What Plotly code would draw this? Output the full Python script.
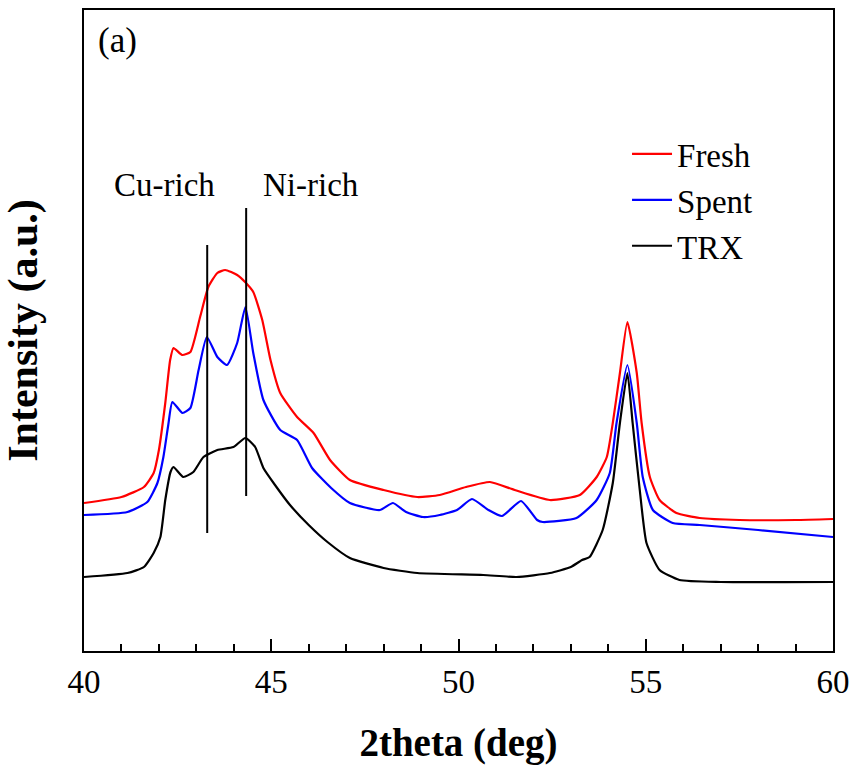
import plotly.graph_objects as go

# ---- data (2theta in deg, intensity in arbitrary units) ----
fresh_x = [40.0, 41.0, 41.6, 41.86, 42.0, 42.17, 42.3, 42.39, 42.62, 42.84, 43.1, 43.32, 43.56, 43.77,
           44.09, 44.3, 44.52, 44.76, 44.98, 45.24, 45.69, 46.13, 46.57, 47.1, 48.0, 48.9, 49.5, 50.2,
           50.84, 51.5, 52.44, 53.24, 53.69, 53.96, 54.12, 54.31, 54.51, 54.76, 54.89, 55.11, 55.37,
           55.82, 56.44, 57.5, 59.0, 60.0]
fresh_y = [148, 154, 164, 178, 201, 248, 291, 303, 296, 299, 334, 364, 378, 381,
           376, 369, 359, 331, 291, 258, 234, 218, 191, 171, 161, 154, 156, 164,
           169, 161, 151, 156, 174, 194, 228, 278, 329, 278, 228, 174, 151,
           138, 133, 131, 131, 132]

spent_x = [40.0, 41.16, 41.69, 41.96, 42.12, 42.25, 42.36, 42.63, 42.84, 43.06, 43.28, 43.56, 43.82,
           44.09, 44.31, 44.52, 44.79, 45.24, 45.69, 46.09, 46.6, 47.1, 47.9, 48.25, 48.6, 49.05,
           49.5, 49.96, 50.36, 50.8, 51.16, 51.67, 52.1, 52.25, 53.15, 53.69, 54.04, 54.22, 54.51,
           54.76, 54.92, 55.19, 55.72, 56.44, 58.0, 60.0]
spent_y = [136, 139, 149, 168, 194, 226, 249, 238, 243, 281, 314, 294, 286,
           308, 344, 298, 251, 221, 211, 183, 163, 148, 141, 148, 139, 134,
           136, 141, 152, 141, 135, 150, 131, 129, 133, 151, 178, 228, 286,
           228, 174, 141, 128, 126, 121, 114]

trx_x = [40.0, 41.16, 41.6, 41.86, 42.04, 42.17, 42.31, 42.39, 42.65, 42.92, 43.19, 43.56, 43.99,
         44.31, 44.57, 44.79, 45.1, 45.5, 46.0, 46.5, 47.1, 48.0, 48.9, 50.66, 51.55, 52.44, 53.0,
         53.3, 53.5, 53.85, 54.12, 54.31, 54.51, 54.65, 54.84, 55.02, 55.37, 55.9, 57.0, 60.0]
trx_y = [74, 78, 84, 98, 114, 151, 179, 184, 174, 179, 194, 201, 204,
         213, 204, 183, 166, 146, 126, 109, 93, 83, 78, 76, 74, 78, 84,
         91, 94, 121, 168, 228, 278, 228, 161, 108, 81, 71, 69, 69]

# reference peak positions (Cu-rich, Ni-rich)
ref_pos = [43.29, 44.33]
ref_low = [118, 155]
ref_high = [406, 443]

labels = ["Cu-rich", "Ni-rich"]
label_x = [42.15, 46.07]
label_y = [466, 466]

FONT = "Liberation Serif, Times New Roman, serif"

fig = go.Figure()
for nm, xs, ys, col in [("Fresh", fresh_x, fresh_y, "#ff0000"),
                        ("Spent", spent_x, spent_y, "#0000ff"),
                        ("TRX", trx_x, trx_y, "#000000")]:
    fig.add_trace(go.Scatter(x=xs, y=ys, mode="lines", name=nm,
                             line=dict(color=col, width=2.2, shape="spline", smoothing=0.5)))

for p, lo, hi in zip(ref_pos, ref_low, ref_high):
    fig.add_trace(go.Scatter(x=[p, p], y=[lo, hi], mode="lines", showlegend=False,
                             line=dict(color="black", width=2), hoverinfo="skip"))

for t, x, y in zip(labels, label_x, label_y):
    fig.add_annotation(x=x, y=y, text=t, showarrow=False,
                       font=dict(family=FONT, size=33, color="black"))

fig.add_annotation(x=0.045, y=0.953, xref="paper", yref="paper", text="(a)", showarrow=False,
                   xanchor="center", yanchor="middle",
                   font=dict(family=FONT, size=35, color="black"))

fig.update_layout(
    width=853, height=769,
    margin=dict(l=84, r=20, t=10, b=118),
    paper_bgcolor="white", plot_bgcolor="white",
    font=dict(family=FONT, color="black"),
    showlegend=True,
    legend=dict(x=0.725, y=0.819, xanchor="left", yanchor="top",
                bgcolor="rgba(0,0,0,0)", font=dict(family=FONT, size=33),
                tracegroupgap=0, itemwidth=40),
    xaxis=dict(range=[40, 60], showline=True, linecolor="black", linewidth=2, mirror=True,
               automargin=False,
               ticks="inside", ticklen=12, tickwidth=2, tickcolor="black",
               tickvals=[40, 45, 50, 55, 60], ticktext=["40", "45", "50", "55", "60"],
               minor=dict(ticks="inside", ticklen=7, tickwidth=2, tickcolor="black", dtick=1,
                          showgrid=False),
               showgrid=False, zeroline=False,
               tickfont=dict(family=FONT, size=33),
               title=dict(text="<b>2theta (deg)</b>", font=dict(family=FONT, size=39), standoff=30)),
    yaxis=dict(range=[0, 641], showline=True, linecolor="black", linewidth=2, mirror=True,
               automargin=False,
               ticks="", showticklabels=False, showgrid=False, zeroline=False,
               title=dict(text="<b>Intensity (a.u.)</b>", font=dict(family=FONT, size=42), standoff=34)),
)

fig.write_html("out.html")
